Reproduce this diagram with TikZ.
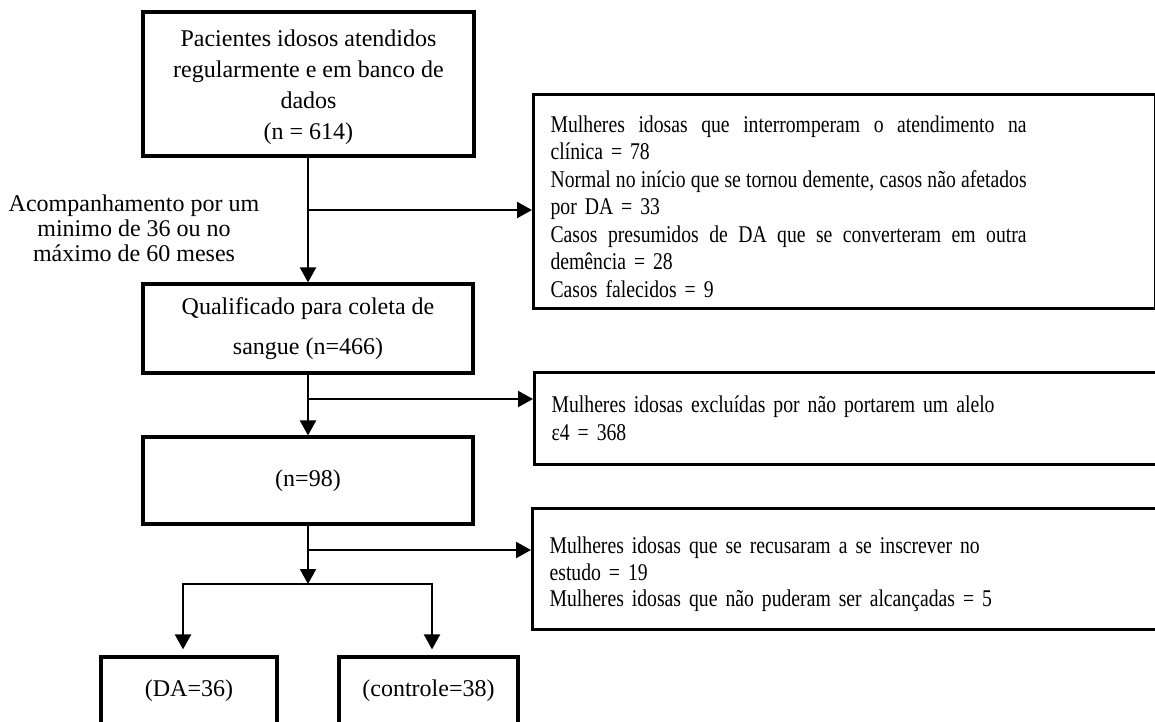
\documentclass[tikz,border=0pt]{standalone}
\usepackage{fontspec}
\setmainfont{Liberation Serif}
\newfontfamily\narrowserif[FakeStretch=0.82]{Liberation Serif}
\usetikzlibrary{arrows.meta}
\newcommand\jline[1]{\makebox[476pt][s]{\spaceskip=\fontdimen2\font plus 1fil\relax #1}}
\begin{document}
\begin{tikzpicture}[x=1pt,y=-1pt,
  box/.style={draw, line width=3.2pt, inner sep=0pt, align=center},
  rbox/.style={draw, line width=3.2pt, inner xsep=17pt, inner ysep=0pt, align=left, anchor=north west},
  conn/.style={line width=2.2pt},
  arr/.style={conn, -{Triangle[length=15pt,width=16pt]}},
  txt/.style={font=\fontsize{24}{#1}\selectfont},
  rtxt/.style={font=\narrowserif\fontsize{24}{#1}\selectfont}
]
\useasboundingbox (0,0) rectangle (1155,721);

% main column
\node[box, txt=31, minimum width=331pt, minimum height=144pt] (b1) at (308.5,84)
  {\rule{0pt}{23pt}Pacientes idosos atendidos\\regularmente e em banco de\\dados\\(n = 614)};
\node[box, txt=40, minimum width=330pt, minimum height=89pt] (b2) at (308,328.5)
  {Qualificado para coleta de\\sangue (n=466)};
\node[box, txt=26, minimum width=330pt, minimum height=87pt] (b3) at (308,480.5)
  {(n=98)};
\node[box, txt=26, minimum width=176pt, minimum height=68pt] (da) at (189,691)
  {(DA=36)};
\node[box, txt=26, minimum width=179pt, minimum height=68pt] (ct) at (428.5,691)
  {(controle=38)};

% label
\node[txt=25, align=center] (lab) at (134,228)
  {Acompanhamento por um\\minimo de 36 ou no\\máximo de 60 meses};

% right boxes
\node[rbox, rtxt=27.5, text width=588pt, minimum height=214pt] (r1) at (532,93)
  {\rule{0pt}{27pt}\jline{Mulheres idosas que interromperam o atendimento na}\\
   clínica = 78\\
   \jline{Normal no início que se tornou demente, casos não afetados}\\
   por DA = 33\\
   \jline{Casos presumidos de DA que se converteram em outra}\\
   demência = 28\\
   Casos falecidos = 9};
\node[rbox, rtxt=28, text width=593pt, minimum height=92pt] (r2) at (533,371)
  {Mulheres idosas excluídas por não portarem um alelo\\ε4 = 368};
\node[rbox, rtxt=26.5, text width=595pt, minimum height=121pt] (r3) at (531,507)
  {\rule{0pt}{27pt}Mulheres idosas que se recusaram a se inscrever no\\estudo = 19\\Mulheres idosas que não puderam ser alcançadas = 5};

% connectors
\coordinate (j1) at (308,210);
\coordinate (j2) at (308,399);
\coordinate (j3) at (308,550);
\coordinate (s0) at (308,584);
\coordinate (sL) at (183,584);
\coordinate (sR) at (432,584);

\draw[arr] (b1.south -| j1) -- (b2.north);
\draw[arr] (j1) -- (j1 -| r1.west);
\draw[arr] (b2.south) -- (b3.north);
\draw[arr] (j2) -- (j2 -| r2.west);
\draw[arr] (b3.south) -- (s0);
\draw[arr] (j3) -- (j3 -| r3.west);
\draw[conn, line cap=rect] (sL) -- (sR);
\draw[arr, shorten >=6pt] (sL) -- (sL |- da.north);
\draw[arr, shorten >=6pt] (sR) -- (sR |- ct.north);
\end{tikzpicture}
\end{document}
